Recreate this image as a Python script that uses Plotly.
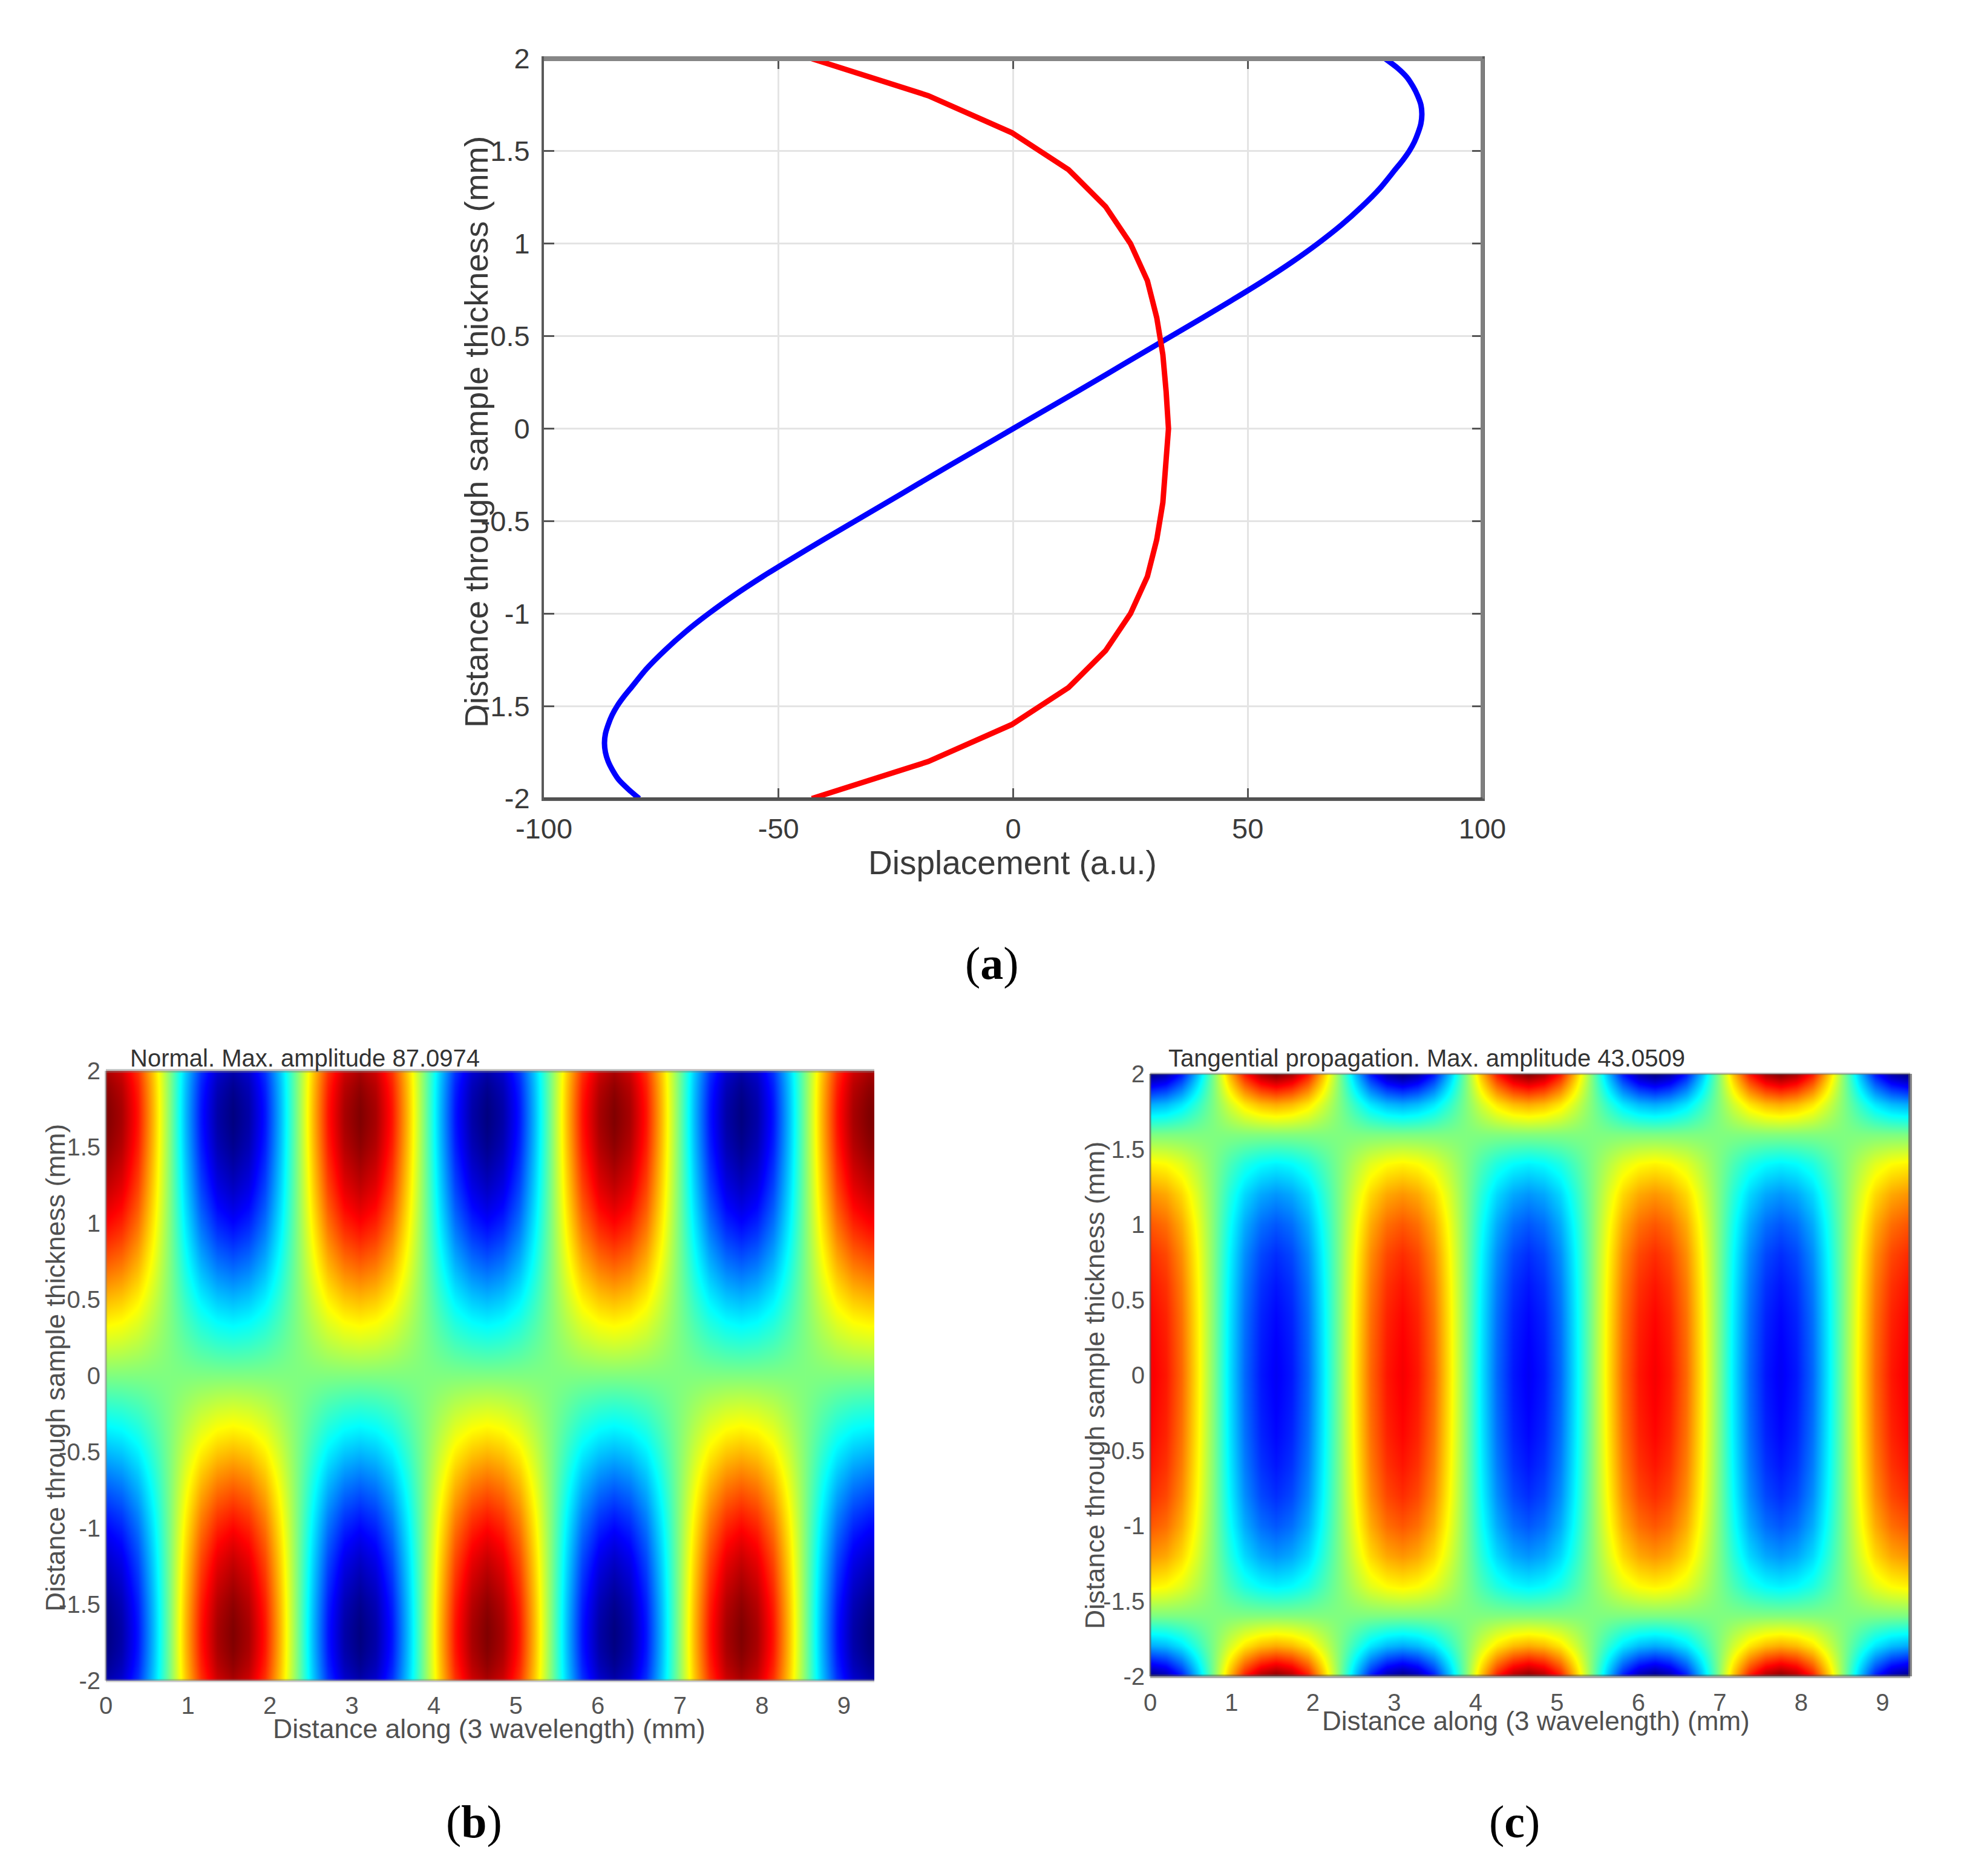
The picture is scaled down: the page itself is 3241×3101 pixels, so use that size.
import plotly.graph_objects as go

W, H = 3241, 3101

# ---- panel (a) ------------------------------------------------------------
blue_y = [-2, -1.95, -1.9, -1.85, -1.8, -1.75, -1.7, -1.65, -1.6, -1.55, -1.5, -1.45, -1.4, -1.3,
          -1.2, -1.1, -1, -0.9, -0.8, -0.7, -0.6, -0.5, -0.4, -0.3, -0.2, -0.1, 0,
          0.1, 0.2, 0.3, 0.4, 0.5, 0.6, 0.7, 0.8, 0.9, 1, 1.1, 1.2, 1.3, 1.4, 1.45, 1.5,
          1.55, 1.6, 1.65, 1.7, 1.75, 1.8, 1.85, 1.9, 1.95, 2]
normal_disp = [-79.7, -82, -84, -85.3, -86.3, -86.9, -87.1, -86.9, -86.3, -85.5, -84.4, -83, -81.4, -78.2,
               -74.3, -69.9, -64.9, -59.4, -53.4, -47, -40.4, -33.7, -27, -20.3, -13.6, -6.8, 0,
               6.8, 13.6, 20.3, 27, 33.7, 40.4, 47, 53.4, 59.4, 64.9, 69.9, 74.3, 78.2, 81.4, 83, 84.4,
               85.5, 86.3, 86.9, 87.1, 86.9, 86.2, 85.2, 83.9, 81.9, 79.3]
red_y = [-2, -1.8, -1.6, -1.4, -1.2, -1, -0.8, -0.6, -0.4, -0.2, 0,
         0.2, 0.4, 0.6, 0.8, 1, 1.2, 1.4, 1.6, 1.8, 2]
tang_disp = [-42.9, -18.1, -0.3, 11.8, 19.7, 25, 28.6, 30.6, 31.9, 32.6, 33.1,
             32.6, 31.9, 30.6, 28.6, 25, 19.7, 11.8, -0.3, -18.1, -42.9]

# ---- panels (b), (c): horizontal wave profile read along the thickness ----
along_x = [0, 0.19, 0.39, 0.58, 0.78, 0.97, 1.16, 1.36, 1.55, 1.74, 1.94, 2.13, 2.33, 2.52, 2.71, 2.91,
           3.1, 3.29, 3.49, 3.68, 3.88, 4.07, 4.26, 4.46, 4.65, 4.84, 5.04, 5.23, 5.43, 5.62, 5.81, 6.01,
           6.2, 6.39, 6.59, 6.78, 6.98, 7.17, 7.36, 7.56, 7.75, 7.94, 8.14, 8.33, 8.53, 8.72, 8.91, 9.11,
           9.3, 9.4]
along_wave = [1, 0.92, 0.71, 0.38, 0, -0.38, -0.71, -0.92, -1, -0.92, -0.71, -0.38, 0, 0.38, 0.71, 0.92,
              1, 0.92, 0.71, 0.38, 0, -0.38, -0.71, -0.92, -1, -0.92, -0.71, -0.38, 0, 0.38, 0.71, 0.92,
              1, 0.92, 0.71, 0.38, 0, -0.38, -0.71, -0.92, -1, -0.92, -0.71, -0.38, 0, 0.38, 0.71, 0.92,
              1, 0.99]

# ---- ticks and texts ------------------------------------------------------
thick_ticks = [-2, -1.5, -1, -0.5, 0, 0.5, 1, 1.5, 2]
thick_labels = ["-2", "-1.5", "-1", "-0.5", "0", "0.5", "1", "1.5", "2"]
disp_ticks = [-100, -50, 0, 50, 100]
disp_labels = ["-100", "-50", "0", "50", "100"]
along_ticks = [0, 1, 2, 3, 4, 5, 6, 7, 8, 9]
along_labels = ["0", "1", "2", "3", "4", "5", "6", "7", "8", "9"]
title_thick = "Distance through sample thickness (mm)"
title_disp = "Displacement (a.u.)"
title_along = "Distance along (3 wavelength) (mm)"
title_b = "Normal. Max. amplitude 87.0974"
title_c = "Tangential propagation. Max. amplitude 43.0509"
max_b = 87.0974
max_c = 43.0509

jet = [[0, "rgb(0,0,128)"], [0.125, "rgb(0,0,255)"], [0.375, "rgb(0,255,255)"],
       [0.625, "rgb(255,255,0)"], [0.875, "rgb(255,0,0)"], [1, "rgb(128,0,0)"]]

z_b = [[d * w for w in along_wave] for d in normal_disp]
z_c = [[d * w for w in along_wave] for d in tang_disp]


def dom_x(a, b):
    return [a / W, b / W]


def dom_y(top, bottom):
    return [1 - bottom / H, 1 - top / H]


fig = go.Figure()
fig.add_trace(go.Scatter(x=normal_disp, y=blue_y, mode="lines",
                         line=dict(color="#0000ff", width=9, shape="spline", smoothing=0.7),
                         showlegend=False, xaxis="x", yaxis="y", cliponaxis=False))
fig.add_trace(go.Scatter(x=tang_disp, y=red_y, mode="lines", line=dict(color="#ff0000", width=9),
                         showlegend=False, xaxis="x", yaxis="y", cliponaxis=False))
fig.add_trace(go.Heatmap(x=along_x, y=blue_y, z=z_b, zmin=-max_b, zmax=max_b, colorscale=jet,
                         zsmooth="best", showscale=False, xaxis="x2", yaxis="y2"))
fig.add_trace(go.Heatmap(x=along_x, y=red_y, z=z_c, zmin=-max_c, zmax=max_c, colorscale=jet,
                         zsmooth="best", showscale=False, xaxis="x3", yaxis="y3"))

tick_a = dict(family="Liberation Sans", size=47, color="#3a3a3a")
tick_h = dict(family="Liberation Sans", size=40, color="#555555")

layout = dict(
    width=W, height=H, autosize=False, margin=dict(l=0, r=0, t=0, b=0, pad=0, autoexpand=False),
    paper_bgcolor="white", plot_bgcolor="white", showlegend=False,
    xaxis=dict(domain=dom_x(899, 2450), range=[-100, 100], tickvals=disp_ticks, ticktext=disp_labels,
               tickfont=tick_a, showgrid=True, gridcolor="#e4e4e4", gridwidth=3, zeroline=False,
               showline=True, linecolor="#5a5a5a", linewidth=4, mirror="ticks", ticks="inside",
               ticklen=17, tickwidth=3, tickcolor="#555555", anchor="y", ticklabelstandoff=6),
    yaxis=dict(domain=dom_y(97, 1320), range=[-2, 2], tickvals=thick_ticks, ticktext=thick_labels,
               tickfont=tick_a, showgrid=True, gridcolor="#e4e4e4", gridwidth=3, zeroline=False,
               showline=True, linecolor="#5a5a5a", linewidth=4, mirror="ticks", ticks="inside",
               ticklen=17, tickwidth=3, tickcolor="#555555", anchor="x", ticklabelstandoff=10),
    xaxis2=dict(domain=dom_x(175, 1445), range=[0, 9.37], tickvals=along_ticks, ticktext=along_labels,
                tickfont=tick_h, showgrid=False, zeroline=False, showline=False, ticks="",
                anchor="y2", ticklabelstandoff=14),
    yaxis2=dict(domain=dom_y(1770, 2778), range=[-2, 2], tickvals=thick_ticks, ticktext=thick_labels,
                tickfont=tick_h, showgrid=False, zeroline=False, showline=False, ticks="",
                anchor="x2", ticklabelstandoff=8),
    xaxis3=dict(domain=dom_x(1901, 3157), range=[0, 9.34], tickvals=along_ticks, ticktext=along_labels,
                tickfont=tick_h, showgrid=False, zeroline=False, showline=False, ticks="",
                anchor="y3", ticklabelstandoff=16),
    yaxis3=dict(domain=dom_y(1775, 2771), range=[-2, 2], tickvals=thick_ticks, ticktext=thick_labels,
                tickfont=tick_h, showgrid=False, zeroline=False, showline=False, ticks="",
                anchor="x3", ticklabelstandoff=8),
)


def note(text, x, y, size, color="#404040", family="Liberation Sans", angle=0):
    return dict(text=text, x=x / W, y=1 - y / H, xref="paper", yref="paper", showarrow=False,
                xanchor="center", yanchor="middle", textangle=angle,
                font=dict(family=family, size=size, color=color))


layout["annotations"] = [
    note(title_disp, 1673, 1426, 55, "#3a3a3a"),
    note(title_thick, 787, 714, 54, "#3a3a3a", angle=-90),
    note("(<b>a</b>)", 1640, 1592, 76, "#000000", "Liberation Serif"),
    note(title_b, 504, 1749, 40, "#333333"),
    note(title_along, 808, 2857, 44.5, "#505050"),
    note(title_thick, 91, 2261, 44.5, "#505050", angle=-90),
    note("(<b>b</b>)", 783, 3011, 76, "#000000", "Liberation Serif"),
    note(title_c, 2358, 1749, 40, "#333333"),
    note(title_along, 2538, 2844, 44, "#505050"),
    note(title_thick, 1809, 2290, 44.5, "#505050", angle=-90),
    note("(<b>c</b>)", 2503, 3011, 76, "#000000", "Liberation Serif"),
]


def edge(xa, ya, x0, y0, x1, y1, color, width):
    return dict(type="line", xref=xa + " domain", yref=ya + " domain", x0=x0, y0=y0, x1=x1, y1=y1,
                line=dict(color=color, width=width), layer="above")


layout["shapes"] = [
    edge("x", "y", 0, 1, 1, 1, "#868686", 8),
    edge("x", "y", 1, 0, 1, 1, "#808080", 6),
    edge("x", "y", 0, 0, 1, 0, "#505050", 4),
    edge("x2", "y2", 0, 1, 1, 1, "rgba(130,130,130,0.45)", 6),
    edge("x2", "y2", 0, 0, 0, 1, "rgba(130,130,130,0.5)", 4),
    edge("x2", "y2", 0, 0, 1, 0, "rgba(130,130,130,0.45)", 5),
    edge("x3", "y3", 0, 1, 1, 1, "rgba(110,110,110,0.45)", 4),
    edge("x3", "y3", 1, 0, 1, 1, "rgba(90,90,90,0.7)", 6),
    edge("x3", "y3", 0, 0, 0, 1, "rgba(90,90,90,0.7)", 3),
    edge("x3", "y3", 0, 0, 1, 0, "rgba(90,90,90,0.5)", 6),
]

fig.update_layout(**layout)
fig.write_html("out.html", post_script="document.body.style.margin='0';",
               config={"displayModeBar": False})
